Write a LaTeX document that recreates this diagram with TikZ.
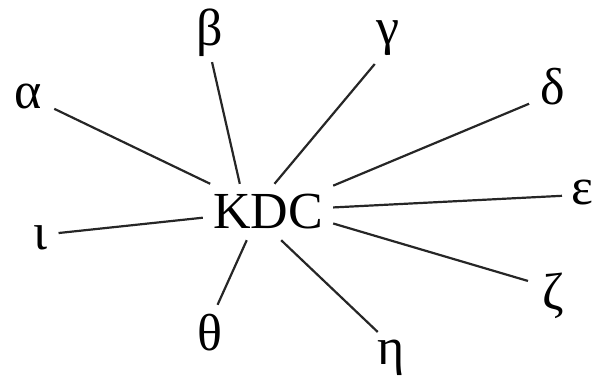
\documentclass[tikz,border=0pt]{standalone}
\usepackage{fontspec}
\setmainfont{Liberation Serif}
\begin{document}
\begin{tikzpicture}[x=1pt,y=-1pt,
  lbl/.style={circle,inner sep=0pt,minimum size=58pt,font=\fontsize{52}{60}\selectfont},
  hub/.style={rectangle,inner sep=0pt,minimum width=130pt,minimum height=56pt,font=\fontsize{52}{60}\selectfont},
  spoke/.style={draw=black!85,line width=2.2pt}]
\useasboundingbox (0,0) rectangle (595,382);
\node[hub] (kdc) at (268,212) {KDC};
\node[lbl] (alpha) at (28,96) {α};
\node[lbl] (beta) at (210,33) {β};
\node[lbl] (gamma) at (388,38) {γ};
\node[lbl] (delta) at (553,87) {δ};
\node[lbl,minimum size=40pt] (epsilon) at (582,193) {ε};
\node[lbl] (zeta) at (553,296) {ζ};
\node[lbl] (eta) at (391,358) {η};
\node[lbl] (theta) at (210,333) {θ};
\node[lbl,minimum size=38pt] (iota) at (40,238) {ι};
\draw[spoke] (alpha.-26.6) -- (kdc.154);
\draw[spoke] (beta.-86) -- (kdc.135);
\draw[spoke] (gamma.-117) -- (kdc.77);
\draw[spoke] (delta.-145) -- (kdc.22.6);
\draw[spoke] (epsilon.-172) -- (kdc.4.5);
\draw[spoke] (zeta.149) -- (kdc.-10.7);
\draw[spoke] (eta.117) -- (kdc.-65);
\draw[spoke] (theta.75) -- (kdc.-127);
\draw[spoke] (iota.15.5) -- (kdc.-175);
\end{tikzpicture}
\end{document}
